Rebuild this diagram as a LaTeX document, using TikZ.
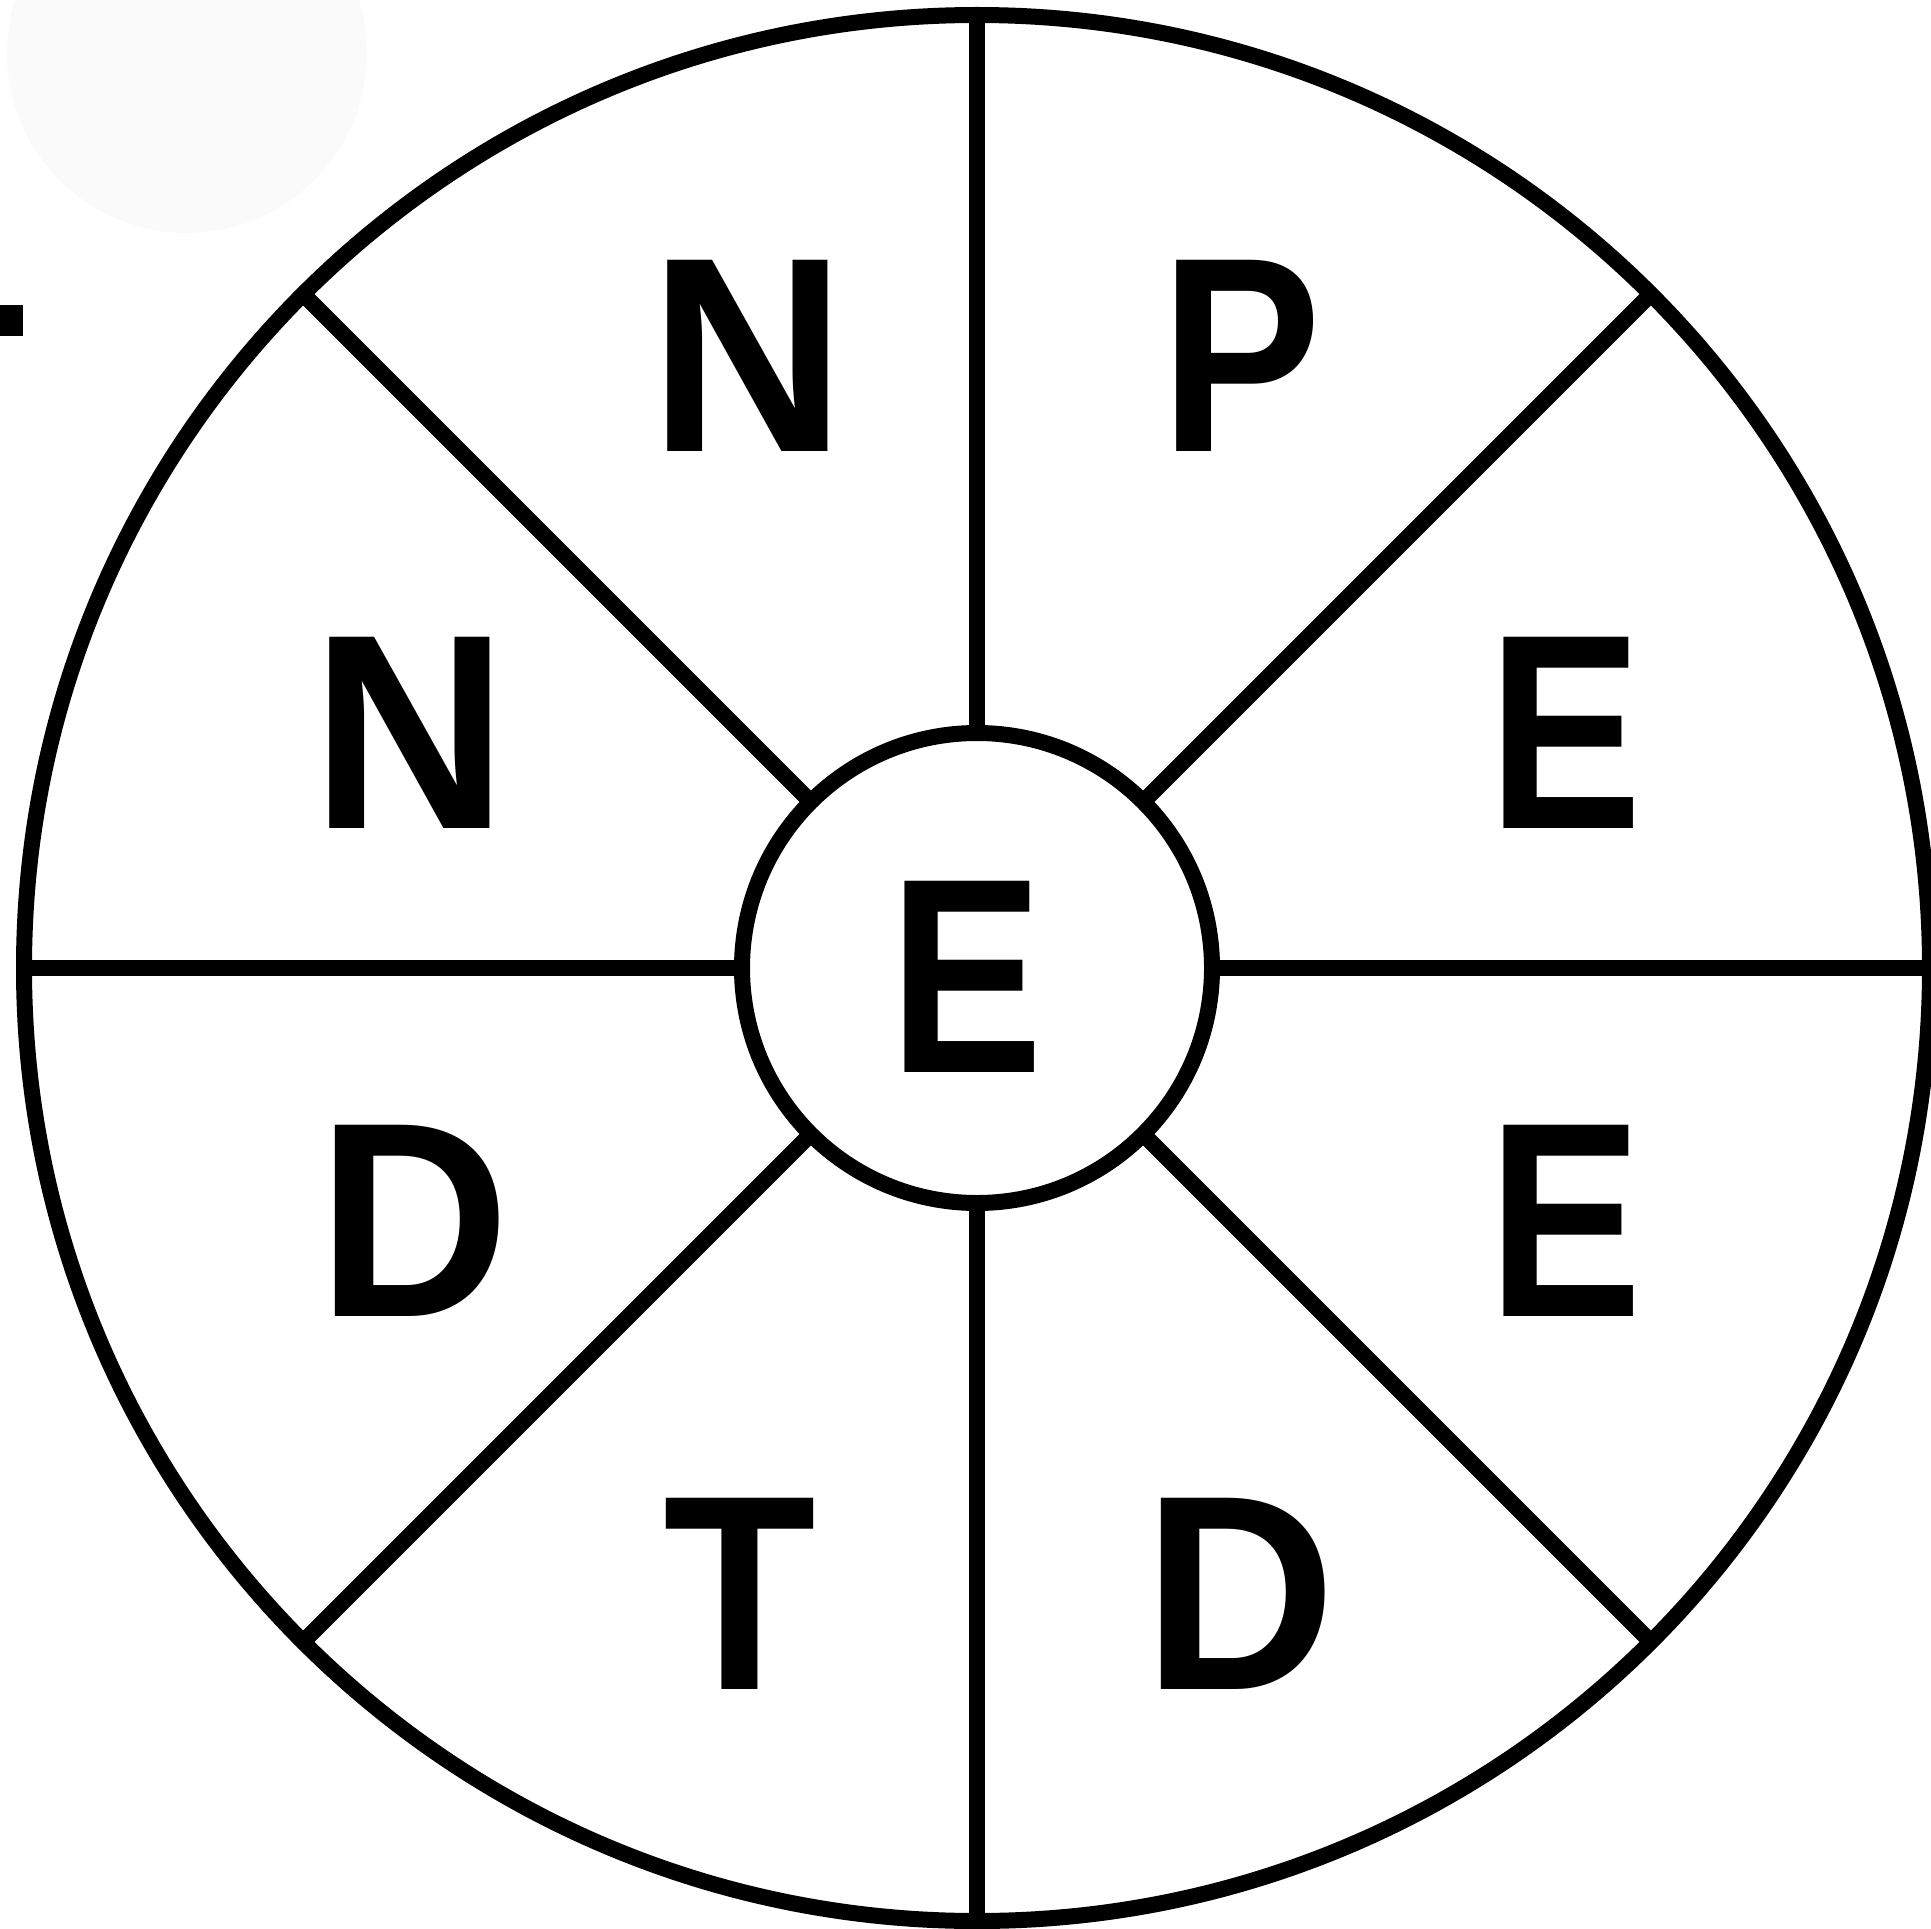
\documentclass[tikz,border=0pt]{standalone}
\usepackage{fontspec}
\setmainfont{Liberation Sans}
\definecolor{ghost}{RGB}{250,250,250}
\begin{document}
\begin{tikzpicture}[x=1pt,y=-1pt,
  ring/.style={circle,draw=black,line width=16pt,inner sep=0pt,outer sep=0pt},
  spoke/.style={line width=16pt,draw=black},
  letter/.style={inner sep=0pt,outer sep=0pt,font=\fontsize{278}{278}\selectfont\bfseries}]
\useasboundingbox (0,0) rectangle (1931,1929);
\fill[ghost] (187,53) circle[radius=180];
\fill[black] (0,305) rectangle (23,336);
\node[ring,minimum size=1906pt] (outer) at (977,968) {};
\node[ring,minimum size=470pt] (inner) at (977,968) {};
\foreach \a in {0,45,...,315}{
  \draw[spoke] (inner.\a) -- (outer.\a);
}
\node[letter] (c) at (966,977) {\scalebox{0.83}[1]{E}};
\node[letter] (n1) at (748,356) {\scalebox{0.98}[1]{N}};
\node[letter] (p) at (1241,356) {\scalebox{0.87}[1]{P}};
\node[letter] (n2) at (410,733) {\scalebox{0.98}[1]{N}};
\node[letter] (e1) at (1565,733) {\scalebox{0.83}[1]{E}};
\node[letter] (d1) at (414,1221) {\scalebox{0.96}[1]{D}};
\node[letter] (e2) at (1565,1221) {\scalebox{0.83}[1]{E}};
\node[letter] (t) at (740,1594) {\scalebox{0.9}[1]{T}};
\node[letter] (d2) at (1240,1594) {\scalebox{0.96}[1]{D}};
\end{tikzpicture}
\end{document}
